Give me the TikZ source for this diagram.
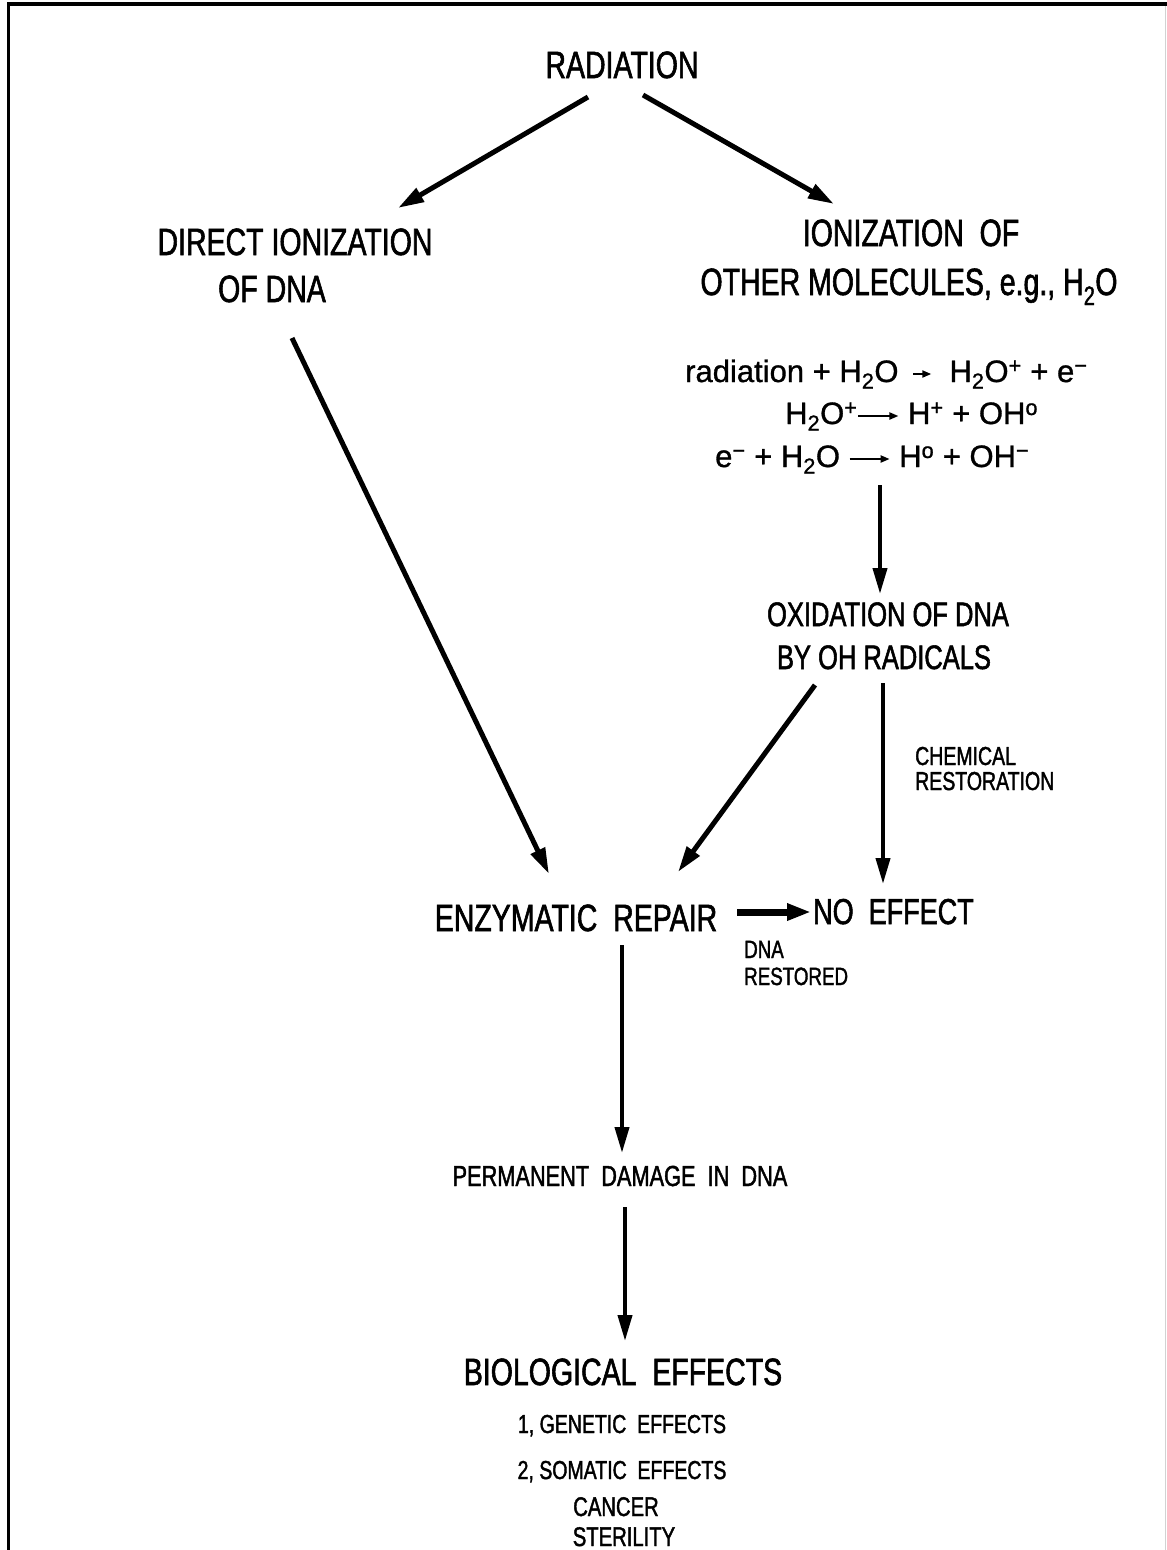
\documentclass[tikz,border=0pt]{standalone}
\usepackage{fontspec}
\setmainfont{Liberation Sans}[FakeStretch=0.75, FakeBold=1.5]
\newfontfamily\eqfont{Liberation Sans}[FakeBold=1]
\usetikzlibrary{arrows.meta}
\newcommand{\fs}[1]{\fontsize{#1}{#1}\selectfont}
\newcommand{\rarr}[1]{\tikz[baseline=0pt]\draw[line width=2pt,-{Triangle[length=9pt,width=7pt]}] (0pt,8pt) -- (#1,8pt);}
\begin{document}
\begin{tikzpicture}[x=1pt,y=-1pt,
  lbl/.style={inner sep=0pt, anchor=base},
  lblw/.style={inner sep=0pt, anchor=base west},
  big/.style={lbl, font=\fs{38}},
  eqn/.style={lblw, font=\eqfont\fs{31}},
  arr/.style={line width=5pt, -{Triangle[length=26pt,width=15pt]}},
  arrthin/.style={line width=4pt, -{Triangle[length=26pt,width=14pt]}},
  arrfat/.style={line width=7pt, -{Triangle[length=24pt,width=16pt]}}]
\useasboundingbox (0,0) rectangle (1167,1550);
\fill[white] (0,0) rectangle (1167,1550);
% frame
\draw[gray!35, line width=1pt] (1165,4) -- (1165,1550);
\draw[line width=3.5pt] (8.5,1550) -- (8.5,4) -- (1167,4);

% nodes
\node[big] (rad) at (622,78) {RADIATION};
\node[big] (dir1) at (295,255) {DIRECT IONIZATION};
\node[big] (dir2) at (272,302) {OF DNA};
\node[big] (ion1) at (911,246) {IONIZATION\ \ OF};
\node[big] (ion2) at (909,295) {OTHER MOLECULES, e.g., H\textsubscript{2}O};
\node[eqn] (eq1) at (685,382) {radiation + H\textsubscript{2}O\ \,\rarr{18pt}\ \ H\textsubscript{2}O\textsuperscript{+} + e\textsuperscript{−}};
\node[eqn] (eq2) at (785,424) {H\textsubscript{2}O\textsuperscript{+}\rarr{40pt}\ H\textsuperscript{+} + OH\textsuperscript{o}};
\node[eqn] (eq3) at (715,467) {e\textsuperscript{−} + H\textsubscript{2}O\ \rarr{40pt}\ H\textsuperscript{o} + OH\textsuperscript{−}};
\node[lbl, font=\fs{34}] (ox1) at (888,626) {OXIDATION OF DNA};
\node[lbl, font=\fs{34}] (ox2) at (884,669) {BY OH RADICALS};
\node[lblw, font=\fs{26}] (chem1) at (915,765) {CHEMICAL};
\node[lblw, font=\fs{26}] (chem2) at (915,790) {RESTORATION};
\node[big] (enz) at (576,931) {ENZYMATIC\ \ REPAIR};
\node[lblw, font=\fs{36}] (noeff) at (813,924) {NO\ \ EFFECT};
\node[lblw, font=\fs{25}] (dnar1) at (744,958) {DNA};
\node[lblw, font=\fs{25}] (dnar2) at (744,985) {RESTORED};
\node[lbl, font=\fs{29}] (perm) at (620,1186) {PERMANENT\ \ DAMAGE\ \ IN\ \ DNA};
\node[big] (bio) at (623,1385) {BIOLOGICAL\ \ EFFECTS};
\node[lbl, font=\fs{26}] (gen) at (622,1433) {1, GENETIC\ \ EFFECTS};
\node[lbl, font=\fs{26}] (som) at (622,1479) {2, SOMATIC\ \ EFFECTS};
\node[lbl, font=\fs{27}] (can) at (616,1516) {CANCER};
\node[lbl, font=\fs{27}] (ster) at (624,1546) {STERILITY};

% connector end points
\coordinate (a1s) at (588,97);  \coordinate (a1e) at (398,208);
\coordinate (a2s) at (643,95);  \coordinate (a2e) at (834,204);
\coordinate (a3s) at (292,338); \coordinate (a3e) at (549,874);
\coordinate (a4s) at (880,485); \coordinate (a4e) at (880,594);
\coordinate (a5s) at (815,685); \coordinate (a5e) at (678,872);
\coordinate (a6s) at (883,683); \coordinate (a6e) at (883,884);
\coordinate (a7s) at (737,912); \coordinate (a7e) at (811,912);
\coordinate (a8s) at (622,945); \coordinate (a8e) at (622,1153);
\coordinate (a9s) at (625,1207); \coordinate (a9e) at (625,1341);

\draw[arr] (a1s) -- (a1e);
\draw[arr] (a2s) -- (a2e);
\draw[arr] (a3s) -- (a3e);
\draw[arrthin] (a4s) -- (a4e);
\draw[arr] (a5s) -- (a5e);
\draw[arrthin] (a6s) -- (a6e);
\draw[arrfat] (a7s) -- (a7e);
\draw[arrthin] (a8s) -- (a8e);
\draw[arrthin] (a9s) -- (a9e);
\end{tikzpicture}
\end{document}
